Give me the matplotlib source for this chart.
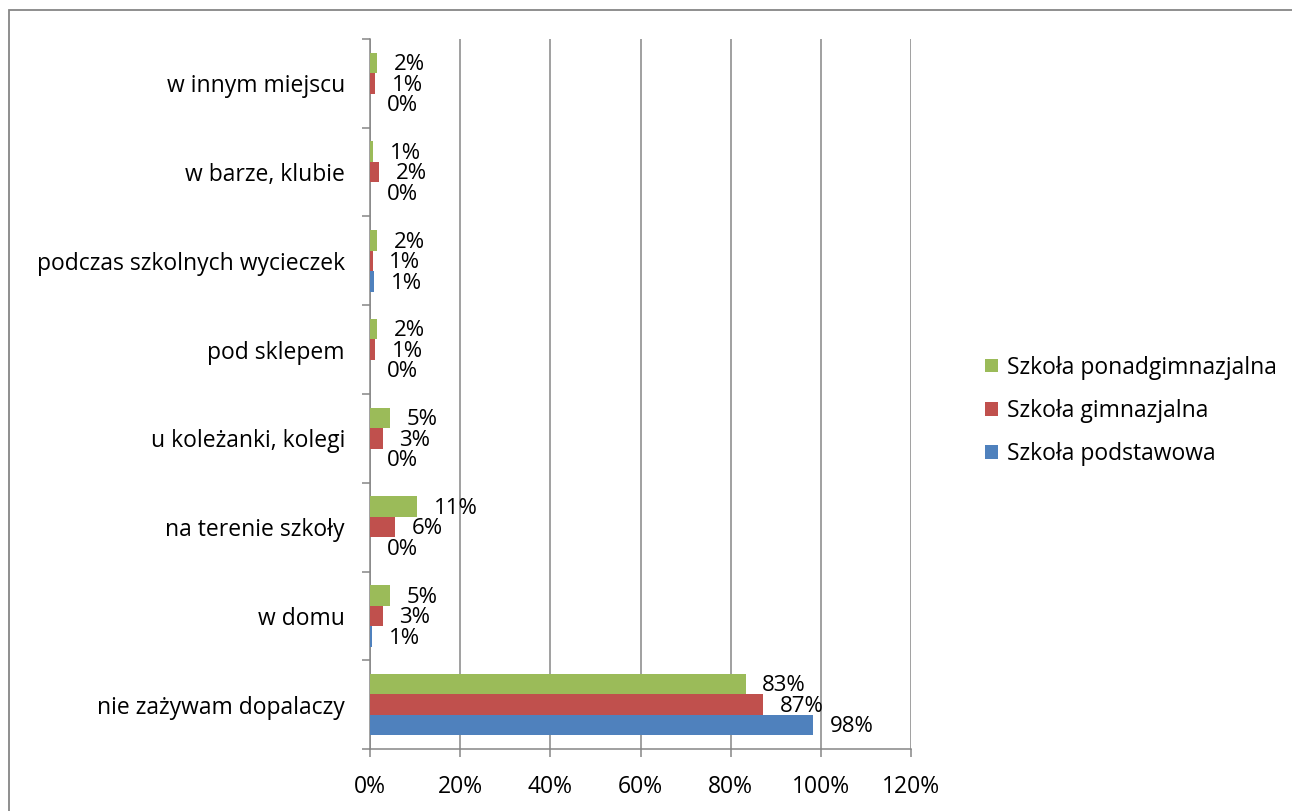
import numpy as np
import matplotlib
matplotlib.use("Agg")
import matplotlib.pyplot as plt
from matplotlib.patches import Rectangle

# categories listed top to bottom
categories = ["w innym miejscu", "w barze, klubie", "podczas szkolnych wycieczek",
              "pod sklepem", "u koleżanki, kolegi", "na terenie szkoły",
              "w domu", "nie zażywam dopalaczy"]
series_names = ["Szkoła ponadgimnazjalna", "Szkoła gimnazjalna", "Szkoła podstawowa"]
ponadgimnazjalna = [1.6, 0.7, 1.6, 1.6, 4.5, 10.5, 4.5, 83.3]
gimnazjalna = [1.2, 2.0, 0.6, 1.2, 2.8, 5.6, 2.8, 87.2]
podstawowa = [0.0, 0.0, 0.9, 0.0, 0.0, 0.0, 0.5, 98.3]
x_ticks = [0, 20, 40, 60, 80, 100, 120]

colors = ["#9BBB59", "#C0504D", "#4F81BD"]
FONT = "Open Sans"
FS = 16.5

plt.rcParams['font.family'] = [FONT, 'DejaVu Sans']

fig = plt.figure(figsize=(12.92, 8.11), dpi=100)
ax = fig.add_axes([370 / 1292, 1 - 749 / 811, (911 - 370) / 1292, (749 - 39) / 811])

# outer chart border (only left/top edges visible in the reference)
fig.patches.append(Rectangle((9 / 1292, -0.1), 1.2, 1 - 10 / 811 + 0.1,
                             transform=fig.transFigure, fill=False,
                             edgecolor="#868686", linewidth=1.3))

y = np.arange(len(categories))
h = 0.231
data = [ponadgimnazjalna, gimnazjalna, podstawowa]
offsets = [-h, 0, h]
for vals, off, col, name in zip(data, offsets, colors, series_names):
    bars = ax.barh(y + off, vals, height=h, color=col, label=name, zorder=3)
    for b, v in zip(bars, vals):
        ax.annotate("%d%%" % int(v + 0.5), (b.get_width(), b.get_y() + b.get_height() / 2 + 0.02),
                    xytext=(12, 0), textcoords="offset points", va="center", ha="left",
                    fontsize=16, zorder=4)

ax.set_ylim(len(categories) - 0.5, -0.5)
ax.set_xlim(0, 120)
ax.set_xticks(x_ticks)
ax.set_xticklabels(["%d%%" % t for t in x_ticks], fontsize=FS)
ax.set_yticks(y)
ax.set_yticklabels(categories, fontsize=FS)
ax.set_yticks(np.arange(len(categories) + 1) - 0.5, minor=True)

ax.grid(axis="x", color="#868686", linewidth=1.1, zorder=0)
for s in ["top", "right"]:
    ax.spines[s].set_visible(False)
for s in ["left", "bottom"]:
    ax.spines[s].set_color("#868686")
    ax.spines[s].set_linewidth(1.1)

ax.tick_params(axis="y", which="major", length=0, pad=18)
ax.tick_params(axis="y", which="minor", length=6, width=1.1, color="#868686")
ax.tick_params(axis="x", length=6, width=1.1, color="#868686", pad=13)

handles, labels = ax.get_legend_handles_labels()
fig.legend(handles, labels, loc="center left", bbox_to_anchor=(985 / 1292, 1 - 411 / 811),
           frameon=False, fontsize=FS, handlelength=0.55, handleheight=0.55,
           handletextpad=0.4, labelspacing=0.85, borderpad=0, borderaxespad=0)

fig.savefig("out.png", dpi=100)
